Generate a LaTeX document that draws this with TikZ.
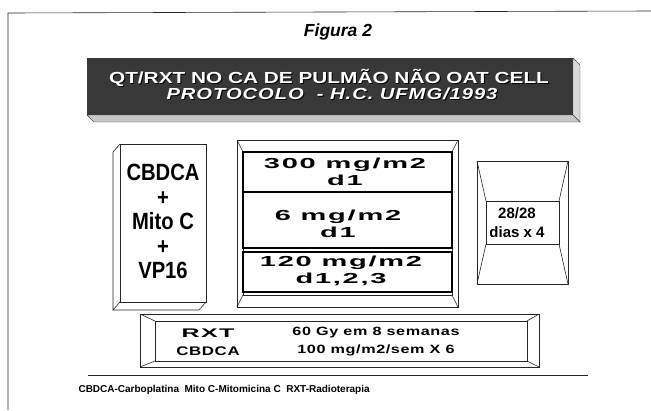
\documentclass[tikz,border=0pt]{standalone}
\usepackage{fontspec}
\setmainfont{Liberation Sans}
\newfontfamily\widefont[FakeStretch=2.0,LetterSpace=12]{Liberation Sans}
\newfontfamily\semiwidefont[FakeStretch=1.35,LetterSpace=5]{Liberation Sans}
\newfontfamily\narrowfont[FakeStretch=0.86]{Liberation Sans}
\newfontfamily\bannerfont[FakeStretch=1.3]{Liberation Sans}
\newfontfamily\bannerwidefont[FakeStretch=1.26,LetterSpace=6]{Liberation Sans}
% white letters with a dark shadow
\newcommand{\shadowed}[1]{\rlap{\kern1pt\raisebox{-1pt}{\color{black}#1}}#1}

\begin{document}
\begin{tikzpicture}[x=1pt,y=-1pt,
    thinline/.style={draw=black!85, line width=0.6pt},
    dosebox/.style={draw=black, line width=1.7pt},
    dosetext/.style={font=\widefont\bfseries\fontsize{14.5}{17}\selectfont, align=center},
    bannertext/.style={font=\bannerfont\bfseries\fontsize{16}{18}\selectfont, text=white,
        inner sep=0pt, text height=12pt, text depth=0.5pt}]
    \useasboundingbox (0,0) rectangle (651,410);

    % Page frame
    \draw[thinline] (8,410) -- (8,13) -- (651,11);
    \node[font=\bfseries\itshape\fontsize{17.5}{20}\selectfont] (Title) at (338,32) {Figura 2};

    % Banner (dark slab)
    \fill[black!78] (87,58) rectangle (573,115);
    \filldraw[fill=black!15, draw=black!70] (573,58) -- (580,65) -- (580,122) -- (573,115) -- cycle;
    \filldraw[fill=black!22, draw=black!70] (87,115) -- (573,115) -- (580,122) -- (94,122) -- cycle;
    \node[bannertext] (BannerTop) at (329,78) {\shadowed{QT/RXT NO CA DE PULMÃO NÃO OAT CELL}};
    \node[bannertext] (BannerBottom) at (332,94)
        {\bannerwidefont\bfseries\itshape\shadowed{PROTOCOLO\ \ - H.C. UFMG/1993}};

    % Drugs (slab on the left)
    \draw[thinline, fill=white] (120,144) rectangle (206,302);
    \draw[thinline] (120,144) -- (113,152) -- (113,310) -- (120,302);
    \draw[thinline] (113,310) -- (199,310) -- (206,302);
    \node[font=\narrowfont\bfseries\fontsize{23.5}{24.5}\selectfont, align=center] (Drugs) at (163,221.5)
        {CBDCA\\+\\Mito C\\+\\VP16};

    % Doses (framed panel)
    \draw[thinline] (237,140) rectangle (458,307);
    \draw[thinline] (243,152) rectangle (452,295);
    \draw[thinline] (237,140) -- (243,152) (458,140) -- (452,152)
                    (237,307) -- (243,295) (458,307) -- (452,295);
    \draw[dosebox] (243,152) rectangle (452,192);
    \draw[dosebox] (243,192) rectangle (452,248);
    \draw[dosebox] (243,252) rectangle (452,292);
    \node[dosetext] (DoseCbdca) at (345,171.5) {300 mg/m2\\d1};
    \node[dosetext] (DoseMito) at (338,223.5) {6 mg/m2\\d1};
    \node[dosetext] (DoseVp) at (341,270.5) {120 mg/m2\\d1,2,3};

    % Cycles (box on the right)
    \draw[thinline] (477,161) rectangle (568,284);
    \draw[thinline] (486,201) rectangle (559,244);
    \draw[thinline] (477,161) -- (486,201) (568,161) -- (559,201)
                    (477,284) -- (486,244) (568,284) -- (559,244);
    \node[font=\bfseries\fontsize{15}{19}\selectfont, align=center] (Cycles) at (517,222.5) {28/28\\dias x 4};

    % Radiotherapy (framed bar)
    \draw[thinline] (140,314) rectangle (539,367);
    \draw[thinline] (155,321) rectangle (527,361);
    \draw[thinline] (140,314) -- (155,321) (539,314) -- (527,321)
                    (140,367) -- (155,361) (539,367) -- (527,361);
    \node[font=\semiwidefont\bfseries\fontsize{12.5}{18}\selectfont, align=center] (RxtLabel) at (208,342)
        {{\widefont RXT}\\CBDCA};
    \node[font=\semiwidefont\bfseries\fontsize{12}{18}\selectfont, align=center] (RxtDose) at (376,342)
        {60 Gy em 8 semanas\\100 mg/m2/sem X 6};

    % Legend
    \draw[thinline] (88,375) -- (588,375);
    \node[anchor=west, font=\bfseries\fontsize{10}{12}\selectfont] (Legend) at (75,390)
        {CBDCA-Carboplatina\ \ Mito C-Mitomicina C\ \ RXT-Radioterapia};
\end{tikzpicture}
\end{document}
